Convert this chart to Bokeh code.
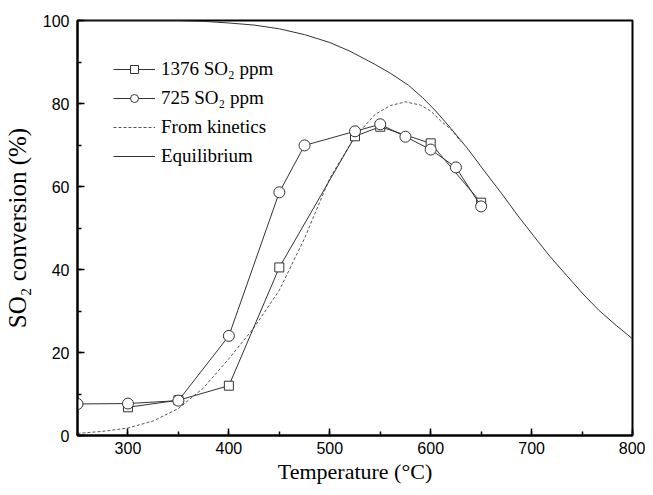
from bokeh.plotting import figure
from bokeh.models import SingleIntervalTicker, Legend, LegendItem, Range1d
from bokeh.embed import file_html
from bokeh.resources import INLINE

# Data
t_1376 = [300, 350, 400, 450, 525, 550, 600, 650]
c_1376 = [6.8, 8.5, 12.0, 40.5, 72.1, 74.4, 70.4, 56.1]

t_725 = [250, 300, 350, 400, 450, 475, 525, 550, 575, 600, 625, 650]
c_725 = [7.6, 7.7, 8.4, 24.0, 58.6, 69.9, 73.3, 75.0, 72.0, 68.9, 64.6, 55.2]

t_kin = [250, 275, 300, 325, 350, 375, 400, 425, 450, 475, 500, 525, 545, 560, 575, 590, 600, 610, 620, 630]
c_kin = [0.5, 1.0, 1.8, 3.5, 6.5, 11.5, 18.5, 26.0, 35.0, 47.5, 62.0, 72.0, 77.4, 79.5, 80.4, 79.6, 78.2, 75.8, 73.8, 70.8]

t_eq = [250, 300, 350, 375, 400, 425, 450, 475, 500, 520, 545, 560, 578, 592, 605, 620, 637, 653,
        670, 686, 702, 718, 735, 751, 767, 784, 800]
c_eq = [100, 100, 100, 99.8, 99.4, 98.9, 98.0, 96.6, 94.7, 92.6, 89.4, 87.3, 84.4, 81.4, 78.2, 74.0, 69.0, 63.8,
        58.4, 53.1, 48.1, 43.2, 38.5, 34.1, 30.1, 26.5, 23.3]

labels = ["1376 SO\u2082 ppm", "725 SO\u2082 ppm", "From kinetics", "Equilibrium"]

p = figure(width=645, height=487, output_backend="svg", toolbar_location=None,
           x_range=Range1d(250, 800), y_range=Range1d(0, 100),
           min_border_left=77, min_border_right=13, min_border_top=20, min_border_bottom=52)

p.xgrid.visible = False
p.ygrid.visible = False
p.outline_line_color = "black"
p.outline_line_width = 2
p.background_fill_color = "white"
p.border_fill_color = "white"

lc = "#333333"
eq = p.line(t_eq, c_eq, line_color=lc, line_width=1)
kin = p.line(t_kin, c_kin, line_color="#555555", line_width=1, line_dash="3 2")
l1 = p.line(t_1376, c_1376, line_color=lc, line_width=1)
s1 = p.scatter(t_1376, c_1376, marker="square", size=9, fill_color="white", line_color=lc, line_width=1)
l2 = p.line(t_725, c_725, line_color=lc, line_width=1)
s2 = p.scatter(t_725, c_725, marker="circle", size=11, fill_color="white", line_color=lc, line_width=1)

for ax in (p.xaxis[0], p.yaxis[0]):
    ax.axis_line_width = 2
    ax.axis_line_color = "black"
    ax.major_tick_in = 7
    ax.major_tick_out = 0
    ax.minor_tick_in = 4
    ax.minor_tick_out = 0
    ax.major_tick_line_width = 1.5
    ax.minor_tick_line_width = 1.5
    ax.major_label_text_font = "Liberation Sans"
    ax.major_label_text_font_size = "16px"
    ax.major_label_text_color = "black"
    ax.axis_label_text_font = "Liberation Serif"
    ax.axis_label_text_font_style = "normal"
    ax.axis_label_text_color = "black"

p.xaxis.axis_label_text_font_size = "22px"
p.yaxis.axis_label_text_font_size = "25px"
p.xaxis.ticker = SingleIntervalTicker(interval=100, num_minor_ticks=2)
p.yaxis.ticker = SingleIntervalTicker(interval=20, num_minor_ticks=2)
p.xaxis.axis_label = "Temperature (\u00b0C)"
p.yaxis.axis_label = "SO\u2082 conversion (%)"
p.xaxis.major_label_standoff = 6
p.yaxis.major_label_standoff = 8
p.xaxis.axis_label_standoff = 2
p.yaxis.axis_label_standoff = 9

legend = Legend(items=[
    LegendItem(label=labels[0], renderers=[l1, s1]),
    LegendItem(label=labels[1], renderers=[l2, s2]),
    LegendItem(label=labels[2], renderers=[kin]),
    LegendItem(label=labels[3], renderers=[eq]),
], location=(36, 268))
legend.border_line_color = None
legend.background_fill_alpha = 0
legend.padding = 0
legend.spacing = 7
legend.label_height = 20
legend.glyph_height = 20
legend.glyph_width = 42
legend.label_standoff = 6
legend.label_text_font = "Liberation Serif"
legend.label_text_font_size = "19px"
legend.label_text_color = "black"
p.add_layout(legend, "center")

open("out.html", "w").write(file_html(p, INLINE))
